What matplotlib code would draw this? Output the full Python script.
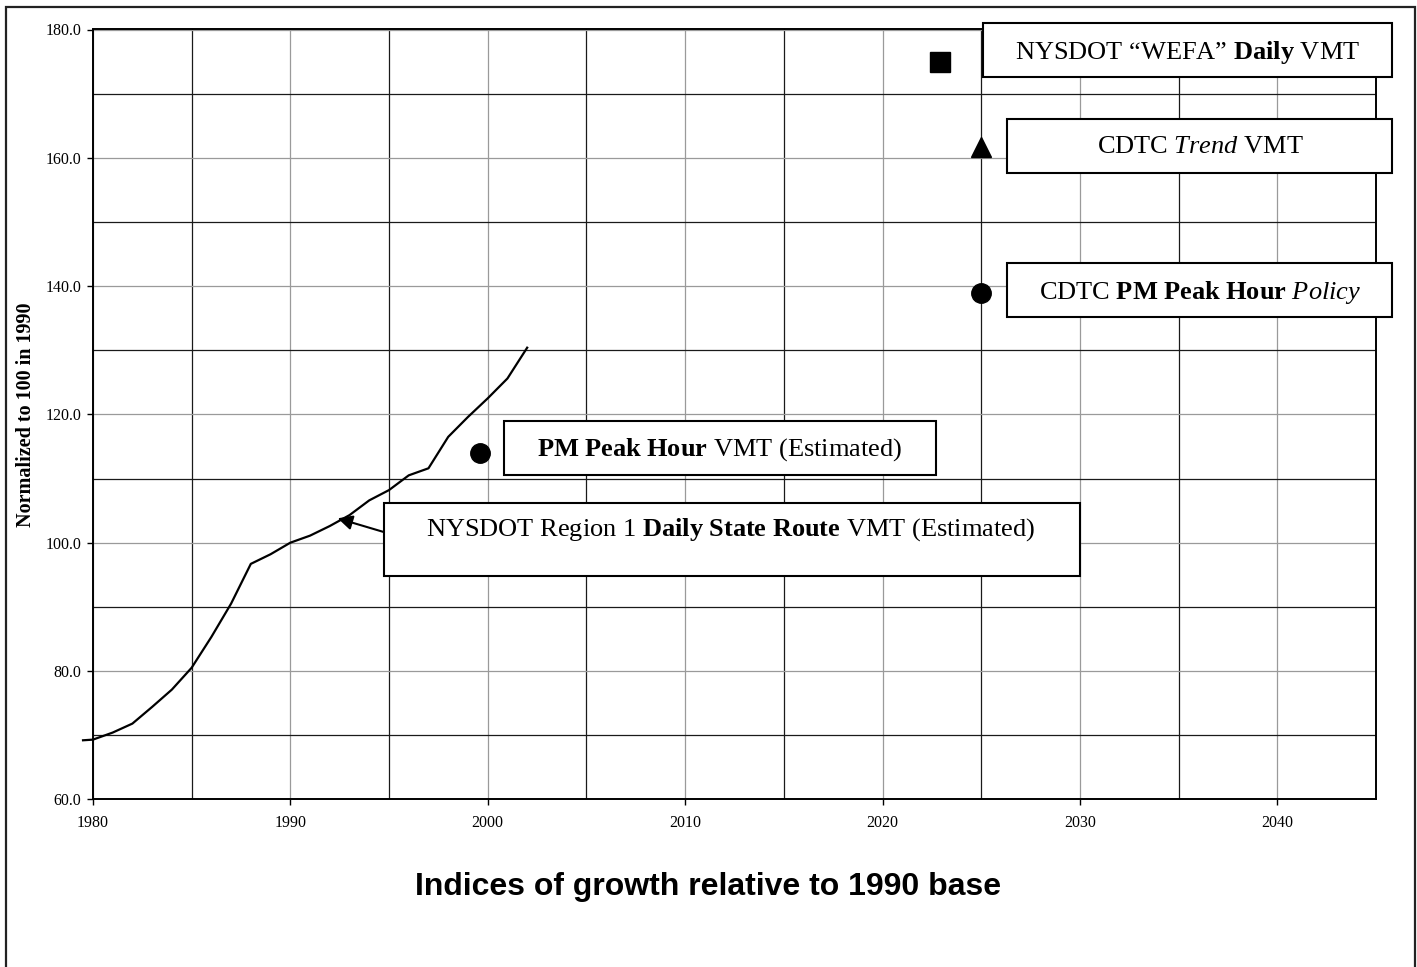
import matplotlib.pyplot as plt
from matplotlib.patches import Rectangle
from matplotlib.ticker import MultipleLocator, FormatStrFormatter

# NYSDOT Region 1 daily state route VMT, normalized to 1990 = 100
years = [1979.5, 1980, 1981, 1982, 1983, 1984, 1985, 1986, 1987, 1988, 1989,
         1990, 1991, 1992, 1993, 1994, 1995, 1996, 1997, 1998, 1999, 2000,
         2001, 2002]
region1_daily = [69.2, 69.3, 70.4, 71.8, 74.4, 77.1, 80.5, 85.3, 90.5, 96.7,
                 98.2, 100.0, 101.1, 102.6, 104.3, 106.6, 108.2, 110.5, 111.6,
                 116.5, 119.6, 122.5, 125.6, 130.4]

# single-point estimates / forecasts
pm_peak_year, pm_peak_value = [1999.6], [114.0]
wefa_year, wefa_value = [2022.9], [174.9]
trend_year, trend_value = [2025.0], [161.7]
policy_year, policy_value = [2025.0], [138.9]

W, H = 1417, 967

plt.rcParams.update({
    'font.family': 'Liberation Serif',
    'mathtext.fontset': 'custom',
    'mathtext.rm': 'Liberation Serif',
    'mathtext.it': 'Liberation Serif:italic',
    'mathtext.bf': 'Liberation Serif:bold',
})


def fx(px):
    return px / W


def fy(py):
    return 1 - py / H


ax_left, ax_right, ax_top, ax_bottom = 92.9, 1376, 29.5, 799.3

fig = plt.figure(figsize=(W / 100, H / 100), dpi=100)
ax = fig.add_axes([fx(ax_left), fy(ax_bottom), (ax_right - ax_left) / W,
                   (ax_bottom - ax_top) / H])

ax.plot(years, region1_daily, color='black', lw=1.6, clip_on=False, zorder=3)
ax.plot(pm_peak_year, pm_peak_value, 'o', color='black', ms=14, zorder=4)
ax.plot(wefa_year, wefa_value, 's', color='black', ms=14, zorder=4)
ax.plot(trend_year, trend_value, '^', color='black', ms=15, zorder=4)
ax.plot(policy_year, policy_value, 'o', color='black', ms=14, zorder=4)

ax.set_xlim(1980, 2045)
ax.set_ylim(60, 180)
ax.xaxis.set_major_locator(MultipleLocator(10))
ax.xaxis.set_minor_locator(MultipleLocator(5))
ax.yaxis.set_major_locator(MultipleLocator(20))
ax.yaxis.set_minor_locator(MultipleLocator(10))
ax.yaxis.set_major_formatter(FormatStrFormatter('%.1f'))
ax.grid(True, which='major', color='#9a9a9a', lw=0.9)
ax.grid(True, which='minor', color='#1a1a1a', lw=0.9)
ax.set_axisbelow(True)
ax.tick_params(which='major', length=4, width=1, labelsize=11.5, pad=4.5)
ax.tick_params(axis='x', which='major', pad=7.5)
ax.tick_params(which='minor', length=0)
for s in ax.spines.values():
    s.set_linewidth(1.4)

ax.set_ylabel('Normalized to 100 in 1990', fontsize=14.5, fontweight='bold')
ax.yaxis.set_label_coords(-(ax_left - 36) / (ax_right - ax_left), 0.5)

fig.text(fx(708), fy(887), 'Indices of growth relative to 1990 base',
         family='Liberation Sans', fontsize=23, fontweight='bold',
         ha='center', va='center')

# arrow pointing to the Region 1 line
ax.annotate('', xy=(1992.4, 103.8), xytext=(1994.74, 101.66),
            arrowprops=dict(arrowstyle='-|>', color='black', lw=1.5,
                            mutation_scale=22, shrinkA=0, shrinkB=0),
            zorder=5)

boxes = [
    ((983, 23, 1392, 77), (1188, 52), 'NYSDOT \u201cWEFA\u201d $\\mathbf{Daily}$ VMT'),
    ((1007, 119, 1392, 173), (1200, 147), 'CDTC $\\mathit{Trend}$ VMT'),
    ((1007, 263, 1392, 317), (1200, 292), 'CDTC $\\mathbf{PM\\ Peak\\ Hour}$ $\\mathit{Policy}$'),
    ((504, 421, 936, 475), (720, 450), '$\\mathbf{PM\\ Peak\\ Hour}$ VMT (Estimated)'),
    ((384, 503, 1080, 576), (731, 530),
     'NYSDOT Region 1 $\\mathbf{Daily\\ State\\ Route}$ VMT (Estimated)'),
]
for (x0, y0, x1, y1), (tx, ty), label in boxes:
    fig.add_artist(Rectangle((fx(x0), fy(y1)), (x1 - x0) / W, (y1 - y0) / H,
                             transform=fig.transFigure, facecolor='white',
                             edgecolor='black', lw=1.5, zorder=5))
    fig.text(fx(tx), fy(ty), label, fontsize=19, ha='center', va='center', zorder=6)

# outer frame
fig.add_artist(Rectangle((fx(5.5), fy(975)), (1415 - 5.5) / W, (975 - 6.5) / H,
                         transform=fig.transFigure, fill=False,
                         edgecolor='#222222', lw=1.6, clip_on=False, zorder=7))

fig.savefig('out.png', dpi=100)
